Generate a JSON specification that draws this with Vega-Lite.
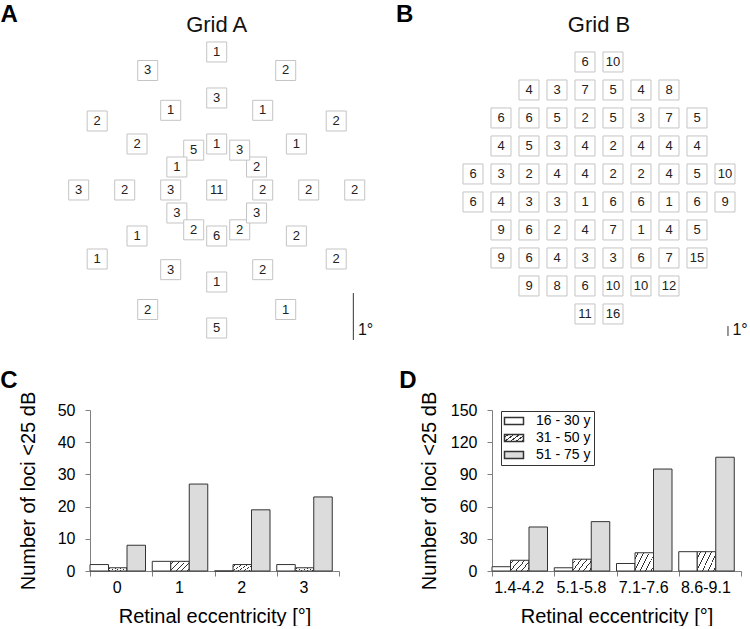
{
  "$schema": "https://vega.github.io/schema/vega-lite/v6.json",
  "padding": 0,
  "autosize": {"type": "pad"},
  "config": {
    "font": "Liberation Sans",
    "view": {"stroke": null},
    "title": {"fontSize": 24, "fontWeight": "bold", "anchor": "start", "frame": "bounds", "color": "#000"},
    "axis": {"domainColor": "#808080", "tickColor": "#808080", "labelFontSize": 16, "titleFontSize": 20, "titleFontWeight": "normal", "labelColor": "#000", "titleColor": "#000", "grid": false, "tickSize": 5},
    "axisX": {"labelPadding": 3, "titlePadding": 11},
    "axisY": {"labelPadding": 10}
  },
  "spacing": 28,
  "vconcat": [
    {
      "spacing": 0,
      "hconcat": [
        {
          "width": 285,
          "height": 340,
          "data": {"values": [
            {"x": 0, "y": 0, "n": 11},
            {"x": 1, "y": 0, "n": 2},
            {"x": 0.866, "y": 0.5, "n": 2},
            {"x": 0.5, "y": 0.866, "n": 3},
            {"x": 0, "y": 1, "n": 1},
            {"x": -0.5, "y": 0.866, "n": 5},
            {"x": -0.866, "y": 0.5, "n": 1},
            {"x": -1, "y": 0, "n": 3},
            {"x": -0.866, "y": -0.5, "n": 3},
            {"x": -0.5, "y": -0.866, "n": 2},
            {"x": 0, "y": -1, "n": 6},
            {"x": 0.5, "y": -0.866, "n": 2},
            {"x": 0.866, "y": -0.5, "n": 3},
            {"x": 2, "y": 0, "n": 2},
            {"x": 1.732, "y": 1, "n": 1},
            {"x": 1, "y": 1.732, "n": 1},
            {"x": 0, "y": 2, "n": 3},
            {"x": -1, "y": 1.732, "n": 1},
            {"x": -1.732, "y": 1, "n": 2},
            {"x": -2, "y": 0, "n": 2},
            {"x": -1.732, "y": -1, "n": 1},
            {"x": -1, "y": -1.732, "n": 3},
            {"x": 0, "y": -2, "n": 1},
            {"x": 1, "y": -1.732, "n": 2},
            {"x": 1.732, "y": -1, "n": 2},
            {"x": 3, "y": 0, "n": 2},
            {"x": 2.598, "y": 1.5, "n": 2},
            {"x": 1.5, "y": 2.598, "n": 2},
            {"x": 0, "y": 3, "n": 1},
            {"x": -1.5, "y": 2.598, "n": 3},
            {"x": -2.598, "y": 1.5, "n": 2},
            {"x": -3, "y": 0, "n": 3},
            {"x": -2.598, "y": -1.5, "n": 1},
            {"x": -1.5, "y": -2.598, "n": 2},
            {"x": 0, "y": -3, "n": 5},
            {"x": 1.5, "y": -2.598, "n": 1},
            {"x": 2.598, "y": -1.5, "n": 2}
          ]},
          "layer": [
            {
              "mark": {"type": "square", "size": 400, "filled": true, "fill": "#ffffff", "stroke": "#c4c4c4", "strokeWidth": 1, "opacity": 1},
              "encoding": {
                "x": {"field": "x", "type": "quantitative", "scale": {"domain": [-2.754, 3.441], "nice": false, "zero": false}, "axis": null},
                "y": {"field": "y", "type": "quantitative", "scale": {"domain": [-3.261, 4.13], "nice": false, "zero": false}, "axis": null}
              }
            },
            {
              "mark": {"type": "text", "fontSize": 13, "color": "#222"},
              "encoding": {
                "x": {"field": "x", "type": "quantitative", "axis": null},
                "y": {"field": "y", "type": "quantitative", "axis": null},
                "text": {"field": "n", "type": "nominal"}
              }
            },
            {
              "data": {"values": [{}]},
              "mark": {"type": "rule", "color": "#333", "strokeWidth": 1},
              "encoding": {"x": {"datum": 2.97, "axis": null}, "y": {"datum": -2.24, "axis": null}, "y2": {"datum": -3.26}}
            },
            {
              "data": {"values": [{}]},
              "mark": {"type": "text", "fontSize": 16, "align": "left", "baseline": "alphabetic", "color": "#111"},
              "encoding": {"x": {"datum": 3.07, "axis": null}, "y": {"datum": -3.15, "axis": null}, "text": {"value": "1°"}}
            },
            {
              "data": {"values": [{}]},
              "mark": {"type": "text", "fontSize": 22, "align": "center", "baseline": "alphabetic", "color": "#111"},
              "encoding": {"x": {"datum": 0, "axis": null}, "y": {"datum": 3.435, "axis": null}, "text": {"value": "Grid A"}}
            },
            {
              "data": {"values": [{}]},
              "mark": {"type": "text", "fontSize": 24, "fontWeight": "bold", "align": "left", "baseline": "alphabetic", "color": "#000"},
              "encoding": {"x": {"datum": -4.7, "axis": null}, "y": {"datum": 3.652, "axis": null}, "text": {"value": "A"}}
            }
          ]
        },
        {
          "width": 375,
          "height": 340,
          "data": {"values": [
            {"x": -1.5, "y": 13.5, "n": 6}, {"x": 1.5, "y": 13.5, "n": 10},
            {"x": -7.5, "y": 10.5, "n": 4}, {"x": -4.5, "y": 10.5, "n": 3}, {"x": -1.5, "y": 10.5, "n": 7}, {"x": 1.5, "y": 10.5, "n": 5}, {"x": 4.5, "y": 10.5, "n": 4}, {"x": 7.5, "y": 10.5, "n": 8},
            {"x": -10.5, "y": 7.5, "n": 6}, {"x": -7.5, "y": 7.5, "n": 6}, {"x": -4.5, "y": 7.5, "n": 5}, {"x": -1.5, "y": 7.5, "n": 2}, {"x": 1.5, "y": 7.5, "n": 5}, {"x": 4.5, "y": 7.5, "n": 3}, {"x": 7.5, "y": 7.5, "n": 7}, {"x": 10.5, "y": 7.5, "n": 5},
            {"x": -10.5, "y": 4.5, "n": 4}, {"x": -7.5, "y": 4.5, "n": 5}, {"x": -4.5, "y": 4.5, "n": 3}, {"x": -1.5, "y": 4.5, "n": 4}, {"x": 1.5, "y": 4.5, "n": 2}, {"x": 4.5, "y": 4.5, "n": 4}, {"x": 7.5, "y": 4.5, "n": 4}, {"x": 10.5, "y": 4.5, "n": 4},
            {"x": -13.5, "y": 1.5, "n": 6}, {"x": -10.5, "y": 1.5, "n": 3}, {"x": -7.5, "y": 1.5, "n": 2}, {"x": -4.5, "y": 1.5, "n": 4}, {"x": -1.5, "y": 1.5, "n": 4}, {"x": 1.5, "y": 1.5, "n": 2}, {"x": 4.5, "y": 1.5, "n": 2}, {"x": 7.5, "y": 1.5, "n": 4}, {"x": 10.5, "y": 1.5, "n": 5}, {"x": 13.5, "y": 1.5, "n": 10},
            {"x": -13.5, "y": -1.5, "n": 6}, {"x": -10.5, "y": -1.5, "n": 4}, {"x": -7.5, "y": -1.5, "n": 3}, {"x": -4.5, "y": -1.5, "n": 3}, {"x": -1.5, "y": -1.5, "n": 1}, {"x": 1.5, "y": -1.5, "n": 6}, {"x": 4.5, "y": -1.5, "n": 6}, {"x": 7.5, "y": -1.5, "n": 1}, {"x": 10.5, "y": -1.5, "n": 6}, {"x": 13.5, "y": -1.5, "n": 9},
            {"x": -10.5, "y": -4.5, "n": 9}, {"x": -7.5, "y": -4.5, "n": 6}, {"x": -4.5, "y": -4.5, "n": 2}, {"x": -1.5, "y": -4.5, "n": 4}, {"x": 1.5, "y": -4.5, "n": 7}, {"x": 4.5, "y": -4.5, "n": 1}, {"x": 7.5, "y": -4.5, "n": 4}, {"x": 10.5, "y": -4.5, "n": 5},
            {"x": -10.5, "y": -7.5, "n": 9}, {"x": -7.5, "y": -7.5, "n": 6}, {"x": -4.5, "y": -7.5, "n": 4}, {"x": -1.5, "y": -7.5, "n": 3}, {"x": 1.5, "y": -7.5, "n": 3}, {"x": 4.5, "y": -7.5, "n": 6}, {"x": 7.5, "y": -7.5, "n": 7}, {"x": 10.5, "y": -7.5, "n": 15},
            {"x": -7.5, "y": -10.5, "n": 9}, {"x": -4.5, "y": -10.5, "n": 8}, {"x": -1.5, "y": -10.5, "n": 6}, {"x": 1.5, "y": -10.5, "n": 10}, {"x": 4.5, "y": -10.5, "n": 10}, {"x": 7.5, "y": -10.5, "n": 12},
            {"x": -1.5, "y": -13.5, "n": 11}, {"x": 1.5, "y": -13.5, "n": 16}
          ]},
          "layer": [
            {
              "mark": {"type": "square", "size": 400, "filled": true, "fill": "#ffffff", "stroke": "#c4c4c4", "strokeWidth": 1, "opacity": 1},
              "encoding": {
                "x": {"field": "x", "type": "quantitative", "scale": {"domain": [-24.0, 16.18], "nice": false, "zero": false}, "axis": null},
                "y": {"field": "y", "type": "quantitative", "scale": {"domain": [-16.29, 20.14], "nice": false, "zero": false}, "axis": null}
              }
            },
            {
              "mark": {"type": "text", "fontSize": 13, "color": "#222"},
              "encoding": {
                "x": {"field": "x", "type": "quantitative", "axis": null},
                "y": {"field": "y", "type": "quantitative", "axis": null},
                "text": {"field": "n", "type": "nominal"}
              }
            },
            {
              "data": {"values": [{}]},
              "mark": {"type": "rule", "color": "#333", "strokeWidth": 1},
              "encoding": {"x": {"datum": 13.82, "axis": null}, "y": {"datum": -14.8, "axis": null}, "y2": {"datum": -15.86}}
            },
            {
              "data": {"values": [{}]},
              "mark": {"type": "text", "fontSize": 16, "align": "left", "baseline": "alphabetic", "color": "#111"},
              "encoding": {"x": {"datum": 14.3, "axis": null}, "y": {"datum": -15.75, "axis": null}, "text": {"value": "1°"}}
            },
            {
              "data": {"values": [{}]},
              "mark": {"type": "text", "fontSize": 22, "align": "center", "baseline": "alphabetic", "color": "#111"},
              "encoding": {"x": {"datum": 0, "axis": null}, "y": {"datum": 16.71, "axis": null}, "text": {"value": "Grid B"}}
            },
            {
              "data": {"values": [{}]},
              "mark": {"type": "text", "fontSize": 24, "fontWeight": "bold", "align": "left", "baseline": "alphabetic", "color": "#000"},
              "encoding": {"x": {"datum": -21.75, "axis": null}, "y": {"datum": 17.79, "axis": null}, "text": {"value": "B"}}
            }
          ]
        }
      ]
    },
    {
      "spacing": 59,
      "resolve": {"scale": {"fill": "independent"}, "legend": {"fill": "independent"}},
      "hconcat": [
        {
          "width": 249,
          "height": 161,
          "title": {"text": "C", "dx": -18, "offset": -2},
          "data": {"values": [
            {"ecc": "0", "age": "16 - 30 y", "n": 2}, {"ecc": "0", "age": "31 - 50 y", "n": 1}, {"ecc": "0", "age": "51 - 75 y", "n": 8},
            {"ecc": "1", "age": "16 - 30 y", "n": 3}, {"ecc": "1", "age": "31 - 50 y", "n": 3}, {"ecc": "1", "age": "51 - 75 y", "n": 27},
            {"ecc": "2", "age": "16 - 30 y", "n": 0}, {"ecc": "2", "age": "31 - 50 y", "n": 2}, {"ecc": "2", "age": "51 - 75 y", "n": 19},
            {"ecc": "3", "age": "16 - 30 y", "n": 2}, {"ecc": "3", "age": "31 - 50 y", "n": 1}, {"ecc": "3", "age": "51 - 75 y", "n": 23}
          ]},
          "mark": {"type": "bar", "stroke": "#333", "strokeWidth": 1},
          "encoding": {
            "x": {"field": "ecc", "type": "nominal", "sort": null, "scale": {"paddingInner": 0, "paddingOuter": 0},
                  "axis": {"title": "Retinal eccentricity [°]", "labelAngle": 0, "tickBand": "extent", "labelOffset": -4.5}},
            "xOffset": {"field": "age", "type": "nominal", "sort": null, "scale": {"paddingInner": 0, "paddingOuter": 0.182, "align": 0}},
            "y": {"field": "n", "type": "quantitative", "scale": {"domain": [0, 50], "nice": false},
                  "axis": {"values": [0, 10, 20, 30, 40, 50], "title": "Number of loci <25 dB", "titlePadding": 19}},
            "fill": {"field": "age", "type": "nominal",
                     "condition": {"test": "datum.age === '31 - 50 y'",
                                   "value": {"gradient": "linear", "x1": 0, "y1": 0, "x2": 1.2, "y2": 0.6, "stops": [
                                     {"offset": 0, "color": "#ffffff"},
                                     {"offset": 0.1, "color": "#ffffff"}, {"offset": 0.1, "color": "#333333"}, {"offset": 0.135, "color": "#333333"}, {"offset": 0.135, "color": "#ffffff"},
                                     {"offset": 0.3, "color": "#ffffff"}, {"offset": 0.3, "color": "#333333"}, {"offset": 0.335, "color": "#333333"}, {"offset": 0.335, "color": "#ffffff"},
                                     {"offset": 0.5, "color": "#ffffff"}, {"offset": 0.5, "color": "#333333"}, {"offset": 0.535, "color": "#333333"}, {"offset": 0.535, "color": "#ffffff"},
                                     {"offset": 0.7, "color": "#ffffff"}, {"offset": 0.7, "color": "#333333"}, {"offset": 0.735, "color": "#333333"}, {"offset": 0.735, "color": "#ffffff"},
                                     {"offset": 0.9, "color": "#ffffff"}, {"offset": 0.9, "color": "#333333"}, {"offset": 0.935, "color": "#333333"}, {"offset": 0.935, "color": "#ffffff"},
                                     {"offset": 1, "color": "#ffffff"}]}},
                     "scale": {"domain": ["16 - 30 y", "31 - 50 y", "51 - 75 y"], "range": ["#ffffff", "#ffffff", "#dcdcdc"]},
                     "legend": null}
          }
        },
        {
          "width": 249,
          "height": 161,
          "title": {"text": "D", "dx": -20, "offset": -2},
          "data": {"values": [
            {"ecc": "1.4-4.2", "age": "16 - 30 y", "n": 4}, {"ecc": "1.4-4.2", "age": "31 - 50 y", "n": 10}, {"ecc": "1.4-4.2", "age": "51 - 75 y", "n": 41},
            {"ecc": "5.1-5.8", "age": "16 - 30 y", "n": 3}, {"ecc": "5.1-5.8", "age": "31 - 50 y", "n": 11}, {"ecc": "5.1-5.8", "age": "51 - 75 y", "n": 46},
            {"ecc": "7.1-7.6", "age": "16 - 30 y", "n": 7}, {"ecc": "7.1-7.6", "age": "31 - 50 y", "n": 17}, {"ecc": "7.1-7.6", "age": "51 - 75 y", "n": 95},
            {"ecc": "8.6-9.1", "age": "16 - 30 y", "n": 18}, {"ecc": "8.6-9.1", "age": "31 - 50 y", "n": 18}, {"ecc": "8.6-9.1", "age": "51 - 75 y", "n": 106}
          ]},
          "mark": {"type": "bar", "stroke": "#333", "strokeWidth": 1},
          "encoding": {
            "x": {"field": "ecc", "type": "nominal", "sort": null, "scale": {"paddingInner": 0, "paddingOuter": 0},
                  "axis": {"title": "Retinal eccentricity [°]", "labelAngle": 0, "tickBand": "extent", "labelOffset": -4.5}},
            "xOffset": {"field": "age", "type": "nominal", "sort": null, "scale": {"paddingInner": 0, "paddingOuter": 0.182, "align": 0}},
            "y": {"field": "n", "type": "quantitative", "scale": {"domain": [0, 150], "nice": false},
                  "axis": {"values": [0, 30, 60, 90, 120, 150], "title": "Number of loci <25 dB", "titlePadding": 11}},
            "fill": {"field": "age", "type": "nominal",
                     "condition": {"test": "datum.age === '31 - 50 y'",
                                   "value": {"gradient": "linear", "x1": 0, "y1": 0, "x2": 1.2, "y2": 0.6, "stops": [
                                     {"offset": 0, "color": "#ffffff"},
                                     {"offset": 0.1, "color": "#ffffff"}, {"offset": 0.1, "color": "#333333"}, {"offset": 0.135, "color": "#333333"}, {"offset": 0.135, "color": "#ffffff"},
                                     {"offset": 0.3, "color": "#ffffff"}, {"offset": 0.3, "color": "#333333"}, {"offset": 0.335, "color": "#333333"}, {"offset": 0.335, "color": "#ffffff"},
                                     {"offset": 0.5, "color": "#ffffff"}, {"offset": 0.5, "color": "#333333"}, {"offset": 0.535, "color": "#333333"}, {"offset": 0.535, "color": "#ffffff"},
                                     {"offset": 0.7, "color": "#ffffff"}, {"offset": 0.7, "color": "#333333"}, {"offset": 0.735, "color": "#333333"}, {"offset": 0.735, "color": "#ffffff"},
                                     {"offset": 0.9, "color": "#ffffff"}, {"offset": 0.9, "color": "#333333"}, {"offset": 0.935, "color": "#333333"}, {"offset": 0.935, "color": "#ffffff"},
                                     {"offset": 1, "color": "#ffffff"}]}},
                     "scale": {"domain": ["16 - 30 y", "31 - 50 y", "51 - 75 y"],
                               "range": ["#ffffff",
                                         {"expr": "{gradient: 'linear', x1: 0, y1: 0, x2: 1.2, y2: 0.6, stops: [{offset: 0, color: '#ffffff'}, {offset: 0.1, color: '#ffffff'}, {offset: 0.1, color: '#333333'}, {offset: 0.16, color: '#333333'}, {offset: 0.16, color: '#ffffff'}, {offset: 0.3, color: '#ffffff'}, {offset: 0.3, color: '#333333'}, {offset: 0.36, color: '#333333'}, {offset: 0.36, color: '#ffffff'}, {offset: 0.5, color: '#ffffff'}, {offset: 0.5, color: '#333333'}, {offset: 0.56, color: '#333333'}, {offset: 0.56, color: '#ffffff'}, {offset: 0.7, color: '#ffffff'}, {offset: 0.7, color: '#333333'}, {offset: 0.76, color: '#333333'}, {offset: 0.76, color: '#ffffff'}, {offset: 0.9, color: '#ffffff'}, {offset: 0.9, color: '#333333'}, {offset: 0.96, color: '#333333'}, {offset: 0.96, color: '#ffffff'}, {offset: 1, color: '#ffffff'}]}"},
                                         "#dcdcdc"]},
                     "legend": {"orient": "none", "legendX": 9, "legendY": 1, "title": null, "strokeColor": "#333", "fillColor": "#ffffff", "padding": 3,
                                "labelFontSize": 14, "labelColor": "#000", "labelOffset": 15, "rowPadding": 3, "symbolOffset": 3,
                                "symbolType": "M-1.583,-0.583H1.583V0.583H-1.583Z", "symbolSize": 144,
                                "encode": {"symbols": {
                                  "stroke": {"value": "#333333"},
                                  "strokeWidth": {"value": 1},
                                  "opacity": {"value": 1}
                                }}}}
          }
        }
      ]
    }
  ]
}
